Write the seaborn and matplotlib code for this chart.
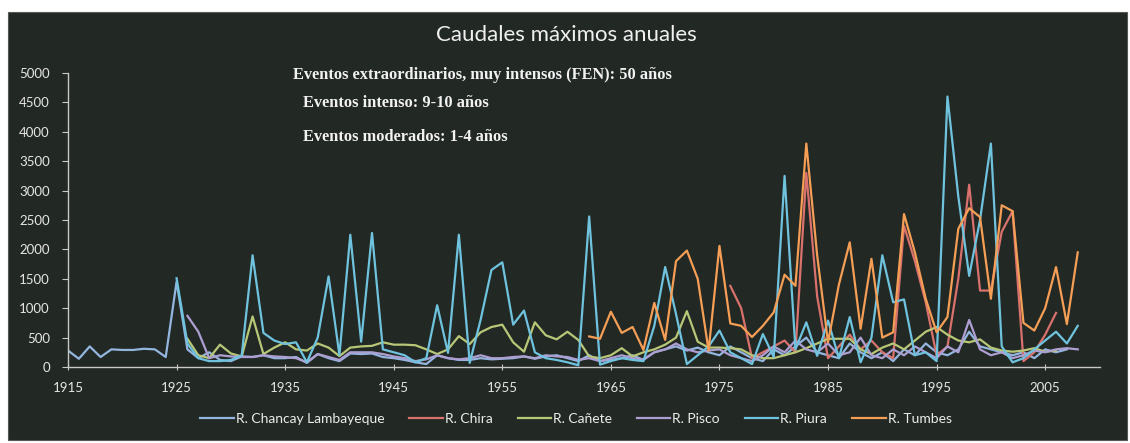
import matplotlib
matplotlib.use("Agg")
import matplotlib.pyplot as plt
from matplotlib.patches import Rectangle
import seaborn as sns
import pandas as pd

# ---- data (visual years on the category axis) ----
chancay_start = 1915
chancay = [280, 140, 350, 170, 300, 290, 290, 310, 300, 170,
           1450, 300, 150, 250, 120, 100, 180, 170, 200, 150,
           150, 170, 70, 220, 150, 100, 230, 220, 230, 170,
           150, 120, 80, 50, 200, 150, 120, 120, 150, 130,
           140, 150, 180, 140, 180, 200, 150, 100, 200, 100,
           120, 150, 200, 120, 250, 300, 350, 280, 330, 250,
           200, 350, 250, 150, 100, 300, 200, 350, 500, 250,
           200, 150, 400, 250, 150, 250, 100, 300, 200, 400,
           250, 200, 300, 600, 350, 300, 250, 200, 250, 150,
           300, 250, 300]

chira_start = 1976
chira = [1380, 1000, 150, 250, 350, 450, 250, 3300, 1200, 150,
         350, 550, 300, 450, 250, 150, 2400, 1800, 1100, 200,
         350, 1500, 3100, 1300, 1300, 2300, 2650, 100, 250, 550,
         920]

canete_start = 1926
canete = [480, 200, 150, 380, 230, 180, 860, 220, 330, 420,
          300, 280, 400, 330, 185, 330, 350, 360, 420, 380,
          380, 370, 300, 220, 300, 525, 390, 590, 680, 720,
          420, 260, 760, 540, 470, 600, 460, 180, 150, 200,
          320, 180, 250, 300, 380, 500, 950, 430, 330, 330,
          320, 300, 200, 150, 150, 200, 250, 320, 400, 480,
          480, 480, 300, 220, 330, 400, 300, 450, 600, 680,
          550, 450, 420, 470, 330, 280, 260, 280, 320, 260,
          280]

pisco_start = 1926
pisco = [870, 600, 150, 200, 180, 170, 170, 200, 180, 170,
         150, 80, 220, 170, 120, 250, 250, 250, 220, 180,
         150, 100, 130, 200, 150, 130, 150, 200, 150, 150,
         170, 180, 150, 200, 180, 170, 120, 150, 100, 150,
         200, 150, 130, 250, 300, 400, 300, 250, 280, 300,
         200, 150, 100, 200, 350, 250, 450, 300, 250, 400,
         200, 250, 500, 200, 150, 300, 200, 350, 250, 150,
         350, 250, 800, 300, 200, 250, 150, 200, 280, 250,
         300, 320, 300]

piura_start = 1925
piura = [1510, 400, 150, 100, 100, 120, 200, 1900, 580, 450,
         390, 420, 80, 500, 1540, 200, 2250, 430, 2280, 300,
         250, 200, 80, 150, 1050, 240, 2250, 70, 800, 1650,
         1780, 720, 960, 250, 150, 120, 80, 30, 2560, 40,
         100, 150, 120, 100, 700, 1700, 900, 50, 200, 350,
         620, 250, 150, 50, 560, 170, 3250, 300, 760, 190,
         790, 150, 850, 80, 500, 1900, 1100, 1150, 200, 250,
         100, 4600, 2900, 1550, 2500, 3800, 350, 80, 150, 300,
         450, 600, 400, 700]

tumbes_start = 1963
tumbes = [520, 480, 940, 580, 680, 290, 1090, 460, 1800, 1980,
          1500, 280, 2060, 740, 700, 510, 700, 930, 1570, 1380,
          3800, 1900, 420, 1400, 2120, 650, 1840, 500, 590, 2600,
          1950, 1160, 590, 850, 2350, 2700, 2550, 1160, 2750, 2650,
          750, 620, 1000, 1700, 730, 1950]

names = ["R. Chancay Lambayeque", "R. Chira", "R. Cañete",
         "R. Pisco", "R. Piura", "R. Tumbes"]
colors = ["#93b5de", "#d9716c", "#b8c777", "#ad9fd2", "#6fc3de", "#f59e56"]
series = [(chancay_start, chancay), (chira_start, chira), (canete_start, canete),
          (pisco_start, pisco), (piura_start, piura), (tumbes_start, tumbes)]

x_ticks = list(range(1915, 2006, 10))
y_ticks = list(range(0, 5001, 500))
title = "Caudales máximos anuales"
notes = ["Eventos extraordinarios, muy intensos (FEN): 50 años",
         "Eventos intenso: 9-10 años",
         "Eventos moderados: 1-4 años"]

rows = []
for name, (start, vals) in zip(names, series):
    for i, v in enumerate(vals):
        rows.append({"year": start + i, "caudal": v, "rio": name})
df = pd.DataFrame(rows)

# ---- figure ----
W, H = 1130, 443
fig = plt.figure(figsize=(W / 100, H / 100), dpi=100, facecolor="white")
bg = "#222824"
fig.patches.append(Rectangle((8 / W, 3 / H), (1127 - 8) / W, (431 - 3) / H,
                             transform=fig.transFigure, facecolor=bg,
                             edgecolor="#555a56", lw=0.8, zorder=-5))

ax = fig.add_axes([68 / W, (H - 367) / H, (1100 - 68) / W, (367 - 73) / H])
ax.set_facecolor("none")
ax.set_zorder(2)

sns.lineplot(data=df, x="year", y="caudal", hue="rio", hue_order=names,
             palette=dict(zip(names, colors)), linewidth=1.6, ax=ax,
             legend=False, sort=True, estimator=None)

ax.set_xlim(1915, 2010.05)
ax.set_ylim(0, 5000)
ax.set_xticks(x_ticks)
ax.set_yticks(y_ticks)
ax.set_xlabel("")
ax.set_ylabel("")
for s in ["top", "right"]:
    ax.spines[s].set_visible(False)
for s in ["left", "bottom"]:
    ax.spines[s].set_color("#c8c8c8")
    ax.spines[s].set_linewidth(1.0)
ax.tick_params(axis="y", colors="#c8c8c8", length=4, width=0.8, pad=9, labelcolor="#e6e6e6")
ax.tick_params(axis="x", colors="#c8c8c8", length=5, width=0.8, direction="inout", pad=8,
               labelcolor="#e6e6e6")
for lab in ax.get_xticklabels() + ax.get_yticklabels():
    lab.set_fontfamily("Lato")
    lab.set_fontsize(9.5)

fig.text(566 / W, (H - 35) / H, title, ha="center", va="center",
         color="#f0f0f0", fontsize=16, family="Lato")

note_pos = [(293, 75), (303, 103), (303, 137)]
for (px, py), t in zip(note_pos, notes):
    fig.text(px / W, (H - py) / H, t, ha="left", va="center", color="#f2f2f2",
             fontsize=11.8, family="Liberation Serif", fontweight="bold")

handles = [plt.Line2D([], [], color=c, lw=1.6) for c in colors]
leg = fig.legend(handles, names, loc="center", bbox_to_anchor=(576 / W, (H - 419) / H),
                 ncol=6, frameon=False, handlelength=2.4, handletextpad=0.15,
                 columnspacing=1.8, prop={"family": "Lato", "size": 10})
for t in leg.get_texts():
    t.set_color("#ececec")

fig.savefig("out.png", dpi=100, facecolor="white")
